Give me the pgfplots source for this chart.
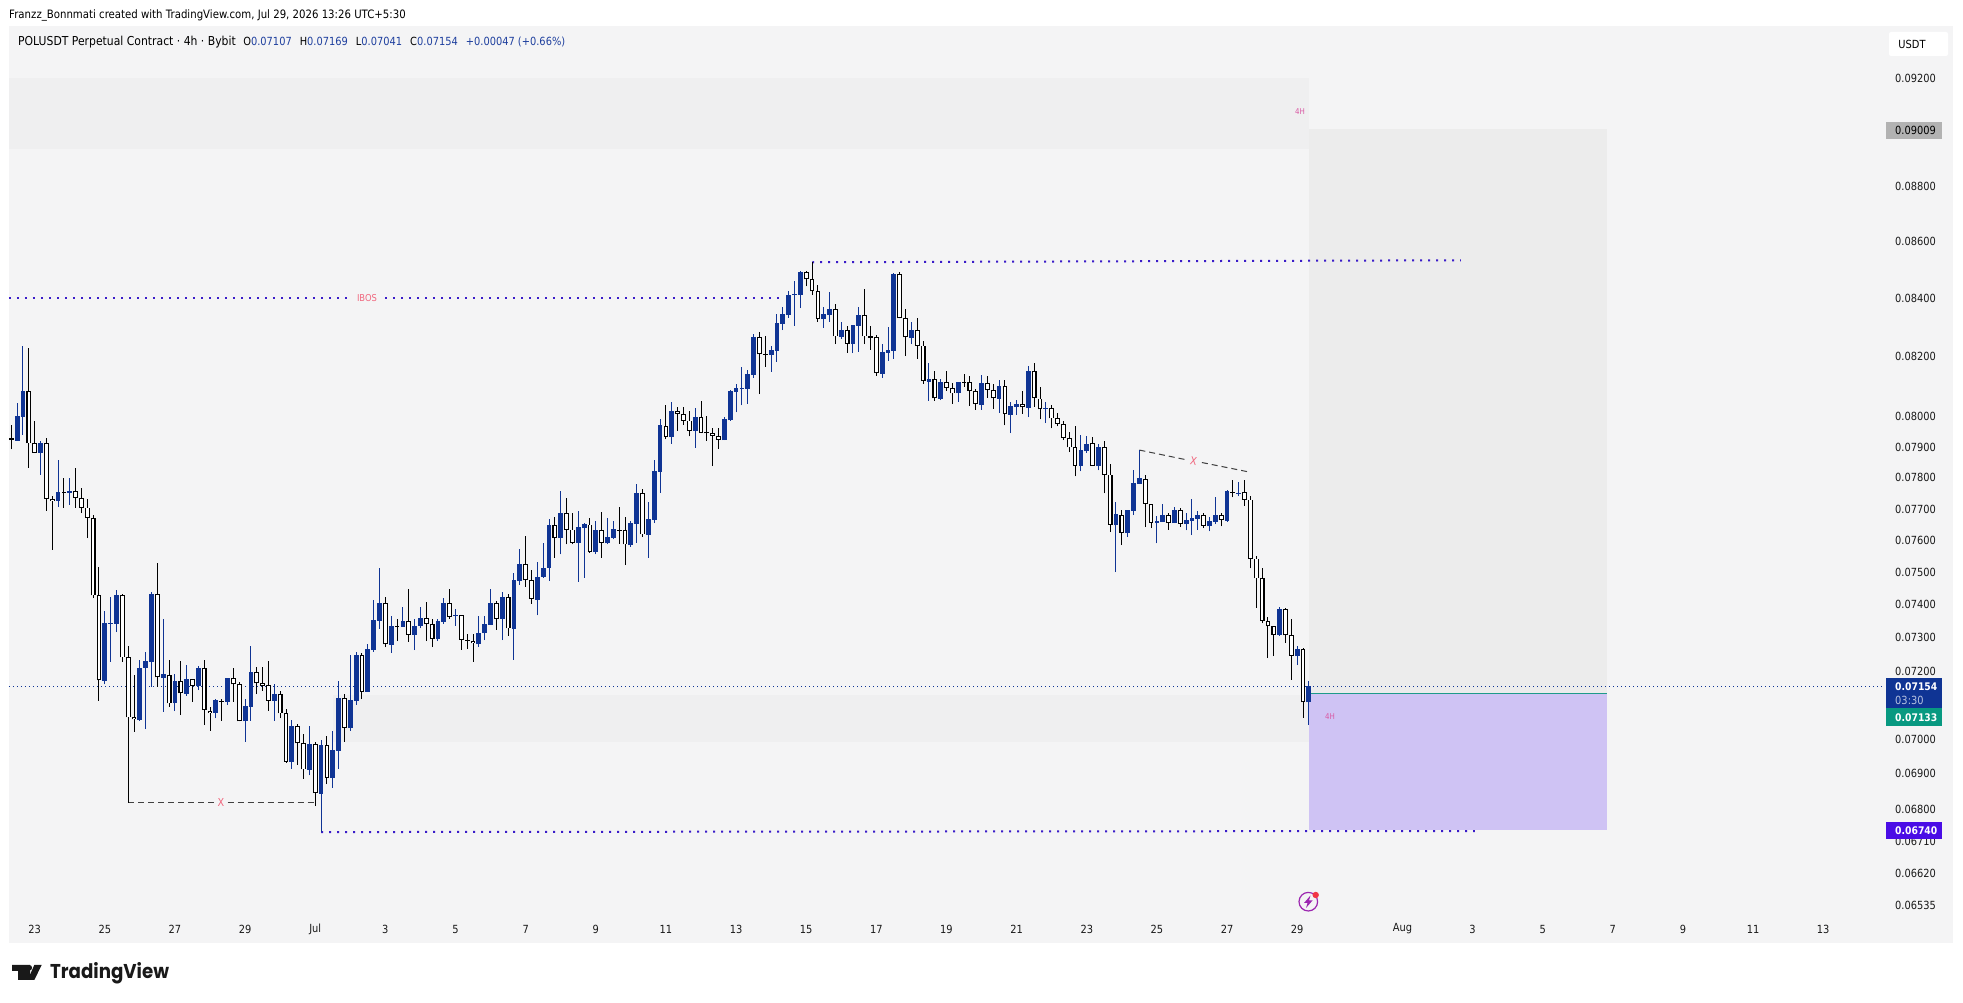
\documentclass[border=0pt]{standalone}
\usepackage{pgfplots}
\usepackage{pgfplotstable}
\usepackage{fontspec}
\setmainfont[FakeStretch=0.88]{DejaVu Sans}
\newfontfamily\logofont[FakeStretch=0.91]{Poppins}
\pgfplotsset{compat=1.18}
\definecolor{panel}{HTML}{F4F4F5}
\definecolor{cBlue}{HTML}{0F3494}
\definecolor{zoneA}{HTML}{EFEFF0}
\definecolor{zoneB}{HTML}{ECECEC}
\definecolor{purp}{HTML}{CFC3F4}
\definecolor{teal}{HTML}{1E9B8A}
\definecolor{bos}{HTML}{3A1CC8}
\definecolor{pink}{HTML}{F0677E}
\definecolor{mag}{HTML}{D95BA5}
\definecolor{legblue}{HTML}{1E3F9E}
\pgfplotstableread{
x o h l c
1 0.07920 0.08044 0.07920 0.08001
2 0.07999 0.08238 0.07939 0.08084
5 0.07881 0.07918 0.07809 0.07911
8 0.07726 0.07857 0.07707 0.07752
10 0.07751 0.07799 0.07712 0.07756
16 0.07171 0.07381 0.07160 0.07343
17 0.07342 0.07424 0.07227 0.07344
18 0.07342 0.07444 0.07317 0.07429
22 0.07055 0.07231 0.07053 0.07210
23 0.07209 0.07256 0.07029 0.07228
24 0.07227 0.07438 0.07153 0.07432
26 0.07180 0.07356 0.07079 0.07190
28 0.07104 0.07190 0.07081 0.07169
30 0.07132 0.07217 0.07126 0.07175
32 0.07156 0.07214 0.07143 0.07210
35 0.07075 0.07118 0.07060 0.07113
37 0.07109 0.07178 0.07099 0.07178
40 0.07051 0.07118 0.06991 0.07095
41 0.07094 0.07274 0.07052 0.07198
45 0.07111 0.07160 0.07053 0.07131
48 0.06934 0.07055 0.06914 0.07037
51 0.06911 0.07038 0.06895 0.06984
53 0.06843 0.06996 0.06736 0.06981
55 0.06888 0.07023 0.06860 0.06967
56 0.06966 0.07170 0.06914 0.07121
58 0.07032 0.07247 0.07024 0.07113
59 0.07111 0.07255 0.07099 0.07247
61 0.07138 0.07279 0.07138 0.07264
62 0.07262 0.07414 0.07257 0.07353
63 0.07351 0.07513 0.07326 0.07405
65 0.07278 0.07365 0.07254 0.07337
67 0.07333 0.07393 0.07333 0.07349
69 0.07308 0.07358 0.07262 0.07337
70 0.07336 0.07393 0.07328 0.07361
73 0.07295 0.07355 0.07290 0.07349
74 0.07348 0.07420 0.07342 0.07405
76 0.07366 0.07386 0.07337 0.07368
80 0.07280 0.07365 0.07272 0.07315
81 0.07314 0.07365 0.07292 0.07341
82 0.07339 0.07448 0.07339 0.07405
84 0.07357 0.07438 0.07293 0.07424
86 0.07327 0.07497 0.07233 0.07475
87 0.07473 0.07572 0.07461 0.07526
90 0.07416 0.07534 0.07367 0.07487
91 0.07486 0.07593 0.07483 0.07515
92 0.07514 0.07667 0.07474 0.07648
94 0.07608 0.07757 0.07557 0.07687
97 0.07592 0.07693 0.07471 0.07642
98 0.07639 0.07656 0.07483 0.07651
100 0.07563 0.07661 0.07556 0.07632
102 0.07591 0.07670 0.07588 0.07610
103 0.07608 0.07661 0.07603 0.07636
106 0.07585 0.07663 0.07580 0.07654
107 0.07653 0.07779 0.07593 0.07750
109 0.07618 0.07721 0.07545 0.07667
110 0.07665 0.07859 0.07654 0.07821
111 0.07819 0.07991 0.07751 0.07971
113 0.07933 0.08048 0.07910 0.08018
117 0.07952 0.08027 0.07897 0.07998
122 0.07923 0.07998 0.07923 0.07991
123 0.07988 0.08086 0.07986 0.08085
124 0.08081 0.08108 0.08013 0.08095
125 0.08092 0.08165 0.08036 0.08095
126 0.08092 0.08155 0.08041 0.08142
127 0.08139 0.08278 0.08129 0.08267
130 0.08207 0.08236 0.08148 0.08223
131 0.08221 0.08346 0.08182 0.08315
132 0.08312 0.08371 0.08291 0.08346
133 0.08343 0.08426 0.08333 0.08412
134 0.08413 0.08461 0.08305 0.08416
135 0.08412 0.08495 0.08367 0.08493
139 0.08329 0.08371 0.08298 0.08346
140 0.08343 0.08423 0.08319 0.08364
142 0.08267 0.08319 0.08260 0.08291
144 0.08243 0.08309 0.08212 0.08309
145 0.08305 0.08371 0.08216 0.08343
149 0.08142 0.08243 0.08128 0.08216
150 0.08214 0.08301 0.08186 0.08223
151 0.08219 0.08489 0.08193 0.08486
154 0.08265 0.08319 0.08243 0.08291
157 0.08115 0.08179 0.08051 0.08125
159 0.08058 0.08125 0.08054 0.08115
162 0.08076 0.08115 0.08048 0.08115
166 0.08038 0.08138 0.08021 0.08110
169 0.08058 0.08121 0.08011 0.08101
171 0.08005 0.08048 0.07945 0.08035
172 0.08031 0.08054 0.08005 0.08041
174 0.08029 0.08169 0.07998 0.08152
177 0.08026 0.08048 0.07978 0.08028
183 0.07837 0.07939 0.07821 0.07890
184 0.07886 0.07935 0.07881 0.07912
186 0.07838 0.07909 0.07824 0.07899
189 0.07648 0.07721 0.07501 0.07683
191 0.07623 0.07696 0.07610 0.07696
192 0.07693 0.07824 0.07680 0.07782
193 0.07779 0.07890 0.07779 0.07798
196 0.07655 0.07677 0.07591 0.07661
197 0.07658 0.07715 0.07658 0.07680
199 0.07654 0.07705 0.07654 0.07696
201 0.07651 0.07686 0.07632 0.07664
202 0.07661 0.07731 0.07617 0.07670
203 0.07667 0.07693 0.07635 0.07680
205 0.07645 0.07673 0.07629 0.07661
206 0.07658 0.07737 0.07651 0.07680
208 0.07663 0.07760 0.07658 0.07756
210 0.07750 0.07785 0.07740 0.07753
217 0.07308 0.07393 0.07305 0.07387
220 0.07244 0.07274 0.07217 0.07264
222 0.07107 0.07169 0.07041 0.07154
}\upT
\pgfplotstableread{
x o h l c
3 0.08083 0.08229 0.07832 0.07911
4 0.07911 0.07984 0.07882 0.07882
6 0.07911 0.07929 0.07694 0.07733
7 0.07733 0.07741 0.07570 0.07727
11 0.07756 0.07831 0.07704 0.07736
12 0.07736 0.07766 0.07687 0.07704
13 0.07704 0.07731 0.07607 0.07672
14 0.07672 0.07682 0.07420 0.07429
15 0.07429 0.07516 0.07111 0.07172
19 0.07429 0.07432 0.07227 0.07240
20 0.07240 0.07274 0.06817 0.07063
21 0.07063 0.07188 0.07021 0.07057
25 0.07432 0.07529 0.07153 0.07181
27 0.07189 0.07231 0.07094 0.07104
29 0.07169 0.07229 0.07069 0.07133
31 0.07175 0.07175 0.07109 0.07156
33 0.07210 0.07231 0.07040 0.07084
34 0.07083 0.07092 0.07024 0.07077
38 0.07178 0.07207 0.07109 0.07160
39 0.07160 0.07166 0.07051 0.07051
42 0.07198 0.07211 0.07131 0.07163
43 0.07163 0.07211 0.07141 0.07156
44 0.07157 0.07229 0.07082 0.07112
46 0.07130 0.07139 0.07060 0.07074
47 0.07074 0.07086 0.06931 0.06934
49 0.07037 0.07042 0.06925 0.06987
50 0.06987 0.07013 0.06885 0.06912
52 0.06984 0.06992 0.06808 0.06844
54 0.06981 0.07008 0.06870 0.06889
57 0.07121 0.07130 0.06992 0.07033
60 0.07247 0.07253 0.07116 0.07138
64 0.07405 0.07424 0.07271 0.07279
68 0.07349 0.07448 0.07287 0.07309
71 0.07361 0.07408 0.07290 0.07340
72 0.07340 0.07355 0.07271 0.07297
75 0.07405 0.07448 0.07357 0.07364
77 0.07367 0.07368 0.07263 0.07294
79 0.07291 0.07310 0.07227 0.07282
83 0.07404 0.07413 0.07324 0.07358
85 0.07423 0.07435 0.07306 0.07328
88 0.07526 0.07613 0.07456 0.07475
89 0.07475 0.07507 0.07403 0.07417
93 0.07648 0.07673 0.07545 0.07609
95 0.07687 0.07734 0.07588 0.07635
96 0.07635 0.07687 0.07588 0.07593
99 0.07650 0.07670 0.07561 0.07564
101 0.07631 0.07690 0.07545 0.07593
105 0.07632 0.07673 0.07523 0.07587
108 0.07750 0.07763 0.07611 0.07619
112 0.07970 0.08038 0.07926 0.07934
114 0.08017 0.08031 0.07952 0.08007
115 0.08007 0.08031 0.07972 0.07987
116 0.07987 0.08018 0.07936 0.07954
118 0.07998 0.08051 0.07946 0.07946
120 0.07945 0.07962 0.07838 0.07937
121 0.07937 0.07962 0.07894 0.07924
128 0.08266 0.08285 0.08074 0.08208
136 0.08492 0.08496 0.08442 0.08467
137 0.08467 0.08528 0.08412 0.08425
138 0.08425 0.08447 0.08319 0.08330
141 0.08363 0.08381 0.08243 0.08269
143 0.08290 0.08305 0.08213 0.08244
146 0.08342 0.08433 0.08243 0.08269
148 0.08266 0.08274 0.08135 0.08144
152 0.08485 0.08493 0.08331 0.08331
153 0.08331 0.08364 0.08202 0.08266
155 0.08290 0.08333 0.08193 0.08238
156 0.08238 0.08254 0.08108 0.08117
158 0.08124 0.08152 0.08051 0.08060
160 0.08114 0.08152 0.08085 0.08094
161 0.08094 0.08111 0.08041 0.08076
164 0.08114 0.08135 0.08035 0.08084
165 0.08084 0.08091 0.08021 0.08040
167 0.08110 0.08135 0.08061 0.08087
168 0.08087 0.08108 0.08025 0.08060
170 0.08100 0.08121 0.07971 0.08007
173 0.08040 0.08085 0.08008 0.08030
175 0.08151 0.08179 0.08031 0.08060
176 0.08059 0.08098 0.07991 0.08023
178 0.08027 0.08038 0.07961 0.07994
179 0.07994 0.08010 0.07968 0.07977
180 0.07977 0.07987 0.07923 0.07930
181 0.07930 0.07950 0.07883 0.07898
182 0.07898 0.07968 0.07805 0.07839
185 0.07911 0.07934 0.07839 0.07839
187 0.07898 0.07918 0.07750 0.07810
188 0.07810 0.07843 0.07626 0.07650
190 0.07682 0.07696 0.07585 0.07625
194 0.07797 0.07808 0.07642 0.07717
195 0.07717 0.07717 0.07639 0.07656
198 0.07680 0.07686 0.07635 0.07655
200 0.07696 0.07702 0.07642 0.07652
204 0.07680 0.07686 0.07639 0.07646
207 0.07680 0.07686 0.07645 0.07665
211 0.07752 0.07792 0.07710 0.07730
212 0.07730 0.07740 0.07513 0.07543
213 0.07543 0.07550 0.07390 0.07481
214 0.07481 0.07513 0.07344 0.07350
215 0.07350 0.07362 0.07238 0.07334
216 0.07334 0.07335 0.07244 0.07309
218 0.07387 0.07390 0.07283 0.07307
219 0.07307 0.07356 0.07173 0.07246
221 0.07264 0.07267 0.07061 0.07107
}\downT
\pgfplotstableread{
x o h l c
0 0.07928 0.07972 0.07893 0.07922
9 0.07752 0.07799 0.07704 0.07751
36 0.07112 0.07116 0.07052 0.07110
66 0.07336 0.07358 0.07289 0.07333
78 0.07294 0.07310 0.07266 0.07292
104 0.07635 0.07706 0.07590 0.07632
119 0.07949 0.08001 0.07920 0.07944
129 0.08209 0.08271 0.08165 0.08208
147 0.08269 0.08305 0.08223 0.08265
163 0.08115 0.08142 0.08098 0.08113
209 0.07755 0.07792 0.07737 0.07752
}\dojiT
\pgfplotsset{
  barsty/.style={draw=none, mark=none, forget plot,
    error bars/.cd, y dir=plus, y explicit, error mark=none,
    error bar style={#1}},
  zone/.style={draw=none, fill=#1, mark=none, forget plot},
  dotl/.style={draw=bos, line width=2pt, dash pattern=on 2pt off 6pt, mark=none, forget plot},
  dashl/.style={draw=black!75, line width=1pt, dash pattern=on 6pt off 4pt, mark=none, forget plot},
}
\newcommand\px[2]{(#1,{1003-#2})}
\begin{document}
\begin{tikzpicture}[x=1pt,y=1pt]
\path[use as bounding box] (0,0) rectangle (1963,1003);
\fill[white] (0,0) rectangle (1963,1003);
\fill[panel] \px{9}{26} rectangle \px{1953}{943};
\begin{axis}[
  at={(9pt,85pt)}, anchor=south west,
  width=1876pt, height=892pt, scale only axis,
  xmin=-0.394, xmax=320.57,
  ymode=log, ymin=0.064996, ymax=0.094029,
  axis line style={draw=none},
  major tick length=0pt, yminorticks=false, xminorticks=false,
  tick style={draw=none},
  xtick={4,16,28,40,52,64,76,88,100,112,124,136,148,160,172,184,196,208,220,238,250,262,274,286,298,310},
  xticklabels={23,25,27,29,Jul,3,5,7,9,11,13,15,17,19,21,23,25,27,29,Aug,3,5,7,9,11,13},
  ytick={0.092,0.088,0.086,0.084,0.082,0.08,0.079,0.078,0.077,0.076,0.075,0.074,0.073,0.072,0.07,0.069,0.068,0.0671,0.0662,0.06535},
  yticklabels={0.09200,0.08800,0.08600,0.08400,0.08200,0.08000,0.07900,0.07800,0.07700,0.07600,0.07500,0.07400,0.07300,0.07200,0.07000,0.06900,0.06800,0.06710,0.06620,0.06535},
  yticklabel pos=right,
  ticklabel style={font=\fontsize{11.2}{13}\selectfont, text=black!90},
  yticklabel style={anchor=west, inner sep=0pt, xshift=10pt},
  xticklabel style={anchor=center, inner sep=0pt, yshift=-11pt},
  every axis plot/.append style={line cap=butt},
]
% zones
\addplot[zone=zoneA] coordinates {(-0.394,0.09203)(222,0.09203)(222,0.08936)(-0.394,0.08936)};
\addplot[zone=zoneA] coordinates {(55,0.07129)(222,0.07129)(222,0.06992)(55,0.06992)};
\addplot[zone=zoneB] coordinates {(222,0.09009)(273,0.09009)(273,0.07133)(222,0.07133)};
\addplot[zone=purp] coordinates {(222,0.07133)(273,0.07133)(273,0.06740)(222,0.06740)};
\addplot[draw=teal, line width=1.2pt, forget plot, mark=none] coordinates {(222,0.07133)(273,0.07133)};
% last price line
\addplot[draw=cBlue, line width=0.8pt, dash pattern=on 1pt off 3pt, forget plot, mark=none] coordinates {(-0.394,0.07154)(320.57,0.07154)};
% structure lines
\addplot[dotl] coordinates {(-0.394,0.08403)(58,0.08403)};
\addplot[dotl] coordinates {(64,0.08403)(131.5,0.08403)};
\addplot[dotl] coordinates {(137,0.08527)(248,0.08534)};
\addplot[dotl] coordinates {(53,0.06735)(250.4,0.06738)};
\addplot[dashl] coordinates {(20,0.06817)(35,0.06817)};
\addplot[dashl] coordinates {(37,0.06817)(52,0.06817)};
\addplot[dashl] coordinates {(193,0.07890)(201,0.07859)};
\addplot[dashl] coordinates {(203.7,0.07849)(212,0.07817)};
% wicks
\addplot[barsty={cBlue,line width=1pt}] table[x=x,y=l,y error plus expr=\thisrow{h}-\thisrow{l}] {\upT};
\addplot[barsty={black,line width=1pt}] table[x=x,y=l,y error plus expr=\thisrow{h}-\thisrow{l}] {\downT};
\addplot[barsty={black,line width=1pt}] table[x=x,y=l,y error plus expr=\thisrow{h}-\thisrow{l}] {\dojiT};
% bodies
\addplot[barsty={black,line width=4.8pt}] table[x=x,y=c,y error plus expr=\thisrow{o}-\thisrow{c}] {\downT};
\addplot[barsty={white,line width=2.6pt,shorten >=0.9pt,shorten <=0.9pt}] table[x=x,y=c,y error plus expr=\thisrow{o}-\thisrow{c}] {\downT};
\addplot[barsty={black,line width=4.8pt}] table[x=x,y=c,y error plus expr=\thisrow{o}-\thisrow{c}] {\dojiT};
\addplot[barsty={cBlue,line width=4.8pt}] table[x=x,y=o,y error plus expr=\thisrow{c}-\thisrow{o}] {\upT};
\end{axis}
% header
\node[anchor=west,inner sep=0pt,font=\fontsize{11.55}{13}\selectfont] at \px{9}{15} {Franzz\_Bonnmati created with TradingView.com, Jul 29, 2026 13:26 UTC+5:30};
\node[anchor=west,inner sep=0pt,font=\fontsize{11.2}{13}\selectfont] at \px{18}{41.7} {{\fontsize{12.3}{13}\selectfont POLUSDT Perpetual Contract · 4h · Bybit}\hspace{7.5pt}O\textcolor{legblue}{0.07107}\hspace{8pt}H\textcolor{legblue}{0.07169}\hspace{8pt}L\textcolor{legblue}{0.07041}\hspace{8pt}C\textcolor{legblue}{0.07154}\hspace{8pt}\textcolor{legblue}{+0.00047 (+0.66\%)}};
% labels on chart
\node[inner sep=0pt,text=pink,font=\fontsize{9.5}{11}\selectfont] at \px{367}{298} {IBOS};
\node[inner sep=0pt,text=pink,font=\fontsize{11}{12}\selectfont] at \px{221}{802} {X};
\node[inner sep=0pt,text=pink,font=\fontsize{11}{12}\selectfont,rotate=-10] at \px{1193.5}{461} {X};
\node[inner sep=0pt,text=mag,font=\fontsize{8}{9}\selectfont] at \px{1300}{112} {4H};
\node[inner sep=0pt,text=mag,font=\fontsize{8}{9}\selectfont] at \px{1330}{717} {4H};
% icon
\draw[color={rgb,255:red,156;green,39;blue,176},line width=1.2pt] \px{1308.3}{901.7} circle (9.3);
\fill[color={rgb,255:red,156;green,39;blue,176}] \px{1310.5}{895.5} -- \px{1304}{903} -- \px{1307.5}{903} -- \px{1306}{908} -- \px{1312.5}{900.5} -- \px{1309}{900.5} -- cycle;
\fill[color={rgb,255:red,242;green,54;blue,69}] \px{1315.7}{895} circle (3.2);
% price axis tags
\fill[white,rounded corners=2pt] \px{1889}{32} rectangle \px{1948}{56};
\node[anchor=center,inner sep=0pt,font=\fontsize{11.2}{13}\selectfont] at \px{1912}{44} {USDT};
\fill[black!30] \px{1886}{122} rectangle \px{1942}{139};
\node[anchor=west,inner sep=0pt,font=\fontsize{11.2}{13}\selectfont] at \px{1895}{130.7} {0.09009};
\fill[cBlue] \px{1886}{678} rectangle \px{1942}{708};
\node[anchor=west,inner sep=0pt,text=white,font=\bfseries\fontsize{10.5}{13}\selectfont] at \px{1895}{686.7} {0.07154};
\node[anchor=west,inner sep=0pt,text=white!70!cBlue,font=\fontsize{11.2}{13}\selectfont] at \px{1895}{700.5} {03:30};
\fill[color={rgb,255:red,8;green,153;blue,129}] \px{1886}{708} rectangle \px{1942}{725.7};
\node[anchor=west,inner sep=0pt,text=white,font=\bfseries\fontsize{10.5}{13}\selectfont] at \px{1895}{717.3} {0.07133};
\fill[color={rgb,255:red,74;green,13;blue,230}] \px{1886}{822} rectangle \px{1942}{839};
\node[anchor=west,inner sep=0pt,text=white,font=\bfseries\fontsize{10.5}{13}\selectfont] at \px{1895}{830.7} {0.06740};
% logo
\fill[black!90] \px{12}{965} -- \px{30}{965} -- \px{30}{980} -- \px{18}{980} -- \px{18}{971} -- \px{12}{971} -- cycle;
\fill[black!90] \px{29.3}{967.8} circle (2.8);
\fill[black!90] \px{34.3}{965} -- \px{41.7}{965} -- \px{34.3}{980} -- \px{27.7}{980} -- cycle;
\node[anchor=west,inner sep=0pt,font=\logofont\bfseries\fontsize{20}{24}\selectfont,text=black!90] at \px{50}{973} {TradingView};
\end{tikzpicture}
\end{document}
